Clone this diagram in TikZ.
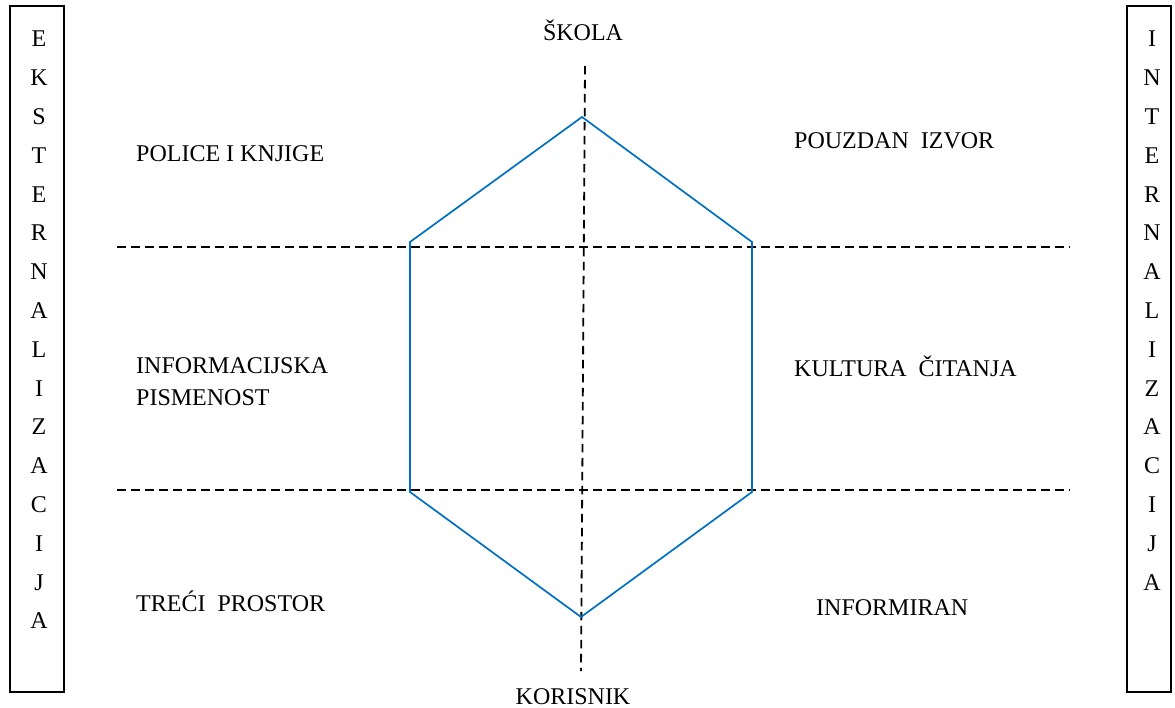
\documentclass[tikz,border=0pt]{standalone}
\usepackage{fontspec}
\setmainfont{Liberation Serif}
\definecolor{hexblue}{RGB}{0,112,192}
\begin{document}
\begin{tikzpicture}[x=1pt,y=-1pt,
  lbl/.style={inner sep=0pt,font=\fontsize{24}{32}\selectfont},
  sidebox/.style={draw,line width=1.4pt},
  sidetext/.style={inner sep=0pt,align=center,font=\fontsize{24}{38.8}\selectfont},
  axis/.style={draw,line width=1.8pt,dash pattern=on 8.5pt off 5.5pt},
  hex/.style={draw=hexblue,line width=1.7pt,line join=miter}]
\useasboundingbox (0,0) rectangle (1175,708);
% side boxes
\draw[sidebox] (10,6) rectangle (64,692);
\draw[sidebox] (1127,6) rectangle (1171,692);
\node[sidetext,anchor=north] (ext) at (39,31) {E\\K\\S\\T\\E\\R\\N\\A\\L\\I\\Z\\A\\C\\I\\J\\A};
\node[sidetext,anchor=north] (int) at (1152,31) {I\\N\\T\\E\\R\\N\\A\\L\\I\\Z\\A\\C\\I\\J\\A};
% axes
\coordinate (vt) at (585,66);
\coordinate (vb) at (581,671);
\coordinate (h1l) at (117,247);
\coordinate (h1r) at (1070,247);
\coordinate (h2l) at (117,490);
\coordinate (h2r) at (1070,490);
\path[axis] (vt) -- (vb);
\path[axis] (h1l) -- (h1r);
\path[axis] (h2l) -- (h2r);
% hexagon
\coordinate (pt) at (582,117);
\coordinate (ptl) at (410,242);
\coordinate (ptr) at (752,242);
\coordinate (pbl) at (410,492);
\coordinate (pbr) at (752,492);
\coordinate (pb) at (581,617);
\path[hex] (pt) -- (ptr) -- (pbr) -- (pb) -- (pbl) -- (ptl) -- cycle;
% labels
\node[lbl] (skola) at (583,30) {ŠKOLA};
\node[lbl] (korisnik) at (573,697) {KORISNIK};
\node[lbl,anchor=west] (police) at (136,154) {POLICE I KNJIGE};
\node[lbl,anchor=west] (pouzdan) at (794,141) {POUZDAN\ \ IZVOR};
\node[lbl,anchor=west,align=left] (infpis) at (136,382) {INFORMACIJSKA\\PISMENOST};
\node[lbl,anchor=west] (kultura) at (794,366) {KULTURA\ \ ČITANJA};
\node[lbl,anchor=west] (treci) at (136,601) {TREĆI\ \ PROSTOR};
\node[lbl,anchor=west] (informiran) at (816,608) {INFORMIRAN};
\end{tikzpicture}
\end{document}
